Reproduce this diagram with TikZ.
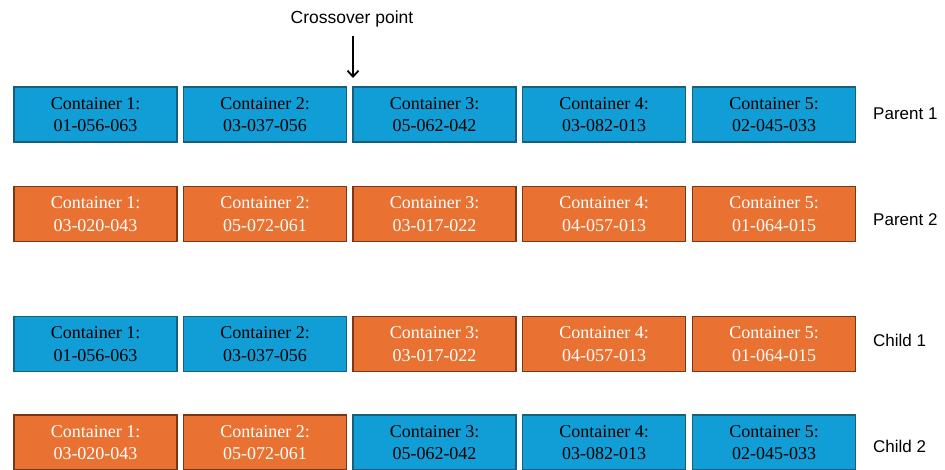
\documentclass[tikz,border=0pt]{standalone}
\usepackage{fontspec}
\setmainfont{Liberation Serif}
\setsansfont{Liberation Sans}
\usetikzlibrary{arrows.meta}
\definecolor{boxblue}{HTML}{119ED6}
\definecolor{lineblue}{HTML}{17607C}
\definecolor{boxorange}{HTML}{E97132}
\definecolor{lineorange}{HTML}{7A3716}
\tikzset{
	gene/.style={rectangle, minimum width=163pt, minimum height=55pt, inner sep=0pt, align=center, line width=1.2pt, font=\fontsize{18}{22.5}\selectfont},
	bluegene/.style={gene, draw=lineblue, fill=boxblue, text=black},
	orangegene/.style={gene, draw=lineorange, fill=boxorange, text=white},
	rowlabel/.style={anchor=west, inner sep=0pt, font=\sffamily\fontsize{17}{20}\selectfont}
}
\begin{document}
\begin{tikzpicture}[x=1pt,y=-1pt,>={Straight Barb[length=6pt,width=11pt]}]
				\useasboundingbox (0,0) rectangle (945,469);
				\node[rowlabel,anchor=center,font=\sffamily\fontsize{17.5}{20}\selectfont] (cross) at (352,19) {Crossover point};
				\coordinate (cut) at (353,78);
				\draw[->, line width=1.8pt, shorten <=9pt] (cross.south -| cut) -- (cut);
				% parent 1
				\node[bluegene] (pa1) at (95.5,114.5) {Container 1:\\01-056-063};
				\node[bluegene] (pa2) at (265,114.5) {Container 2:\\03-037-056};
				\node[bluegene] (pa3) at (434.5,114.5) {Container 3:\\05-062-042};
				\node[bluegene] (pa4) at (604,114.5) {Container 4:\\03-082-013};
				\node[bluegene] (pa5) at (774,114.5) {Container 5:\\02-045-033};
				\node[rowlabel] (pa) at (873,114) {Parent 1};
				% parent 2
				\node[orangegene] (pb1) at (95.5,214) {Container 1:\\03-020-043};
				\node[orangegene] (pb2) at (265,214) {Container 2:\\05-072-061};
				\node[orangegene] (pb3) at (434.5,214) {Container 3:\\03-017-022};
				\node[orangegene] (pb4) at (604,214) {Container 4:\\04-057-013};
				\node[orangegene] (pb5) at (774,214) {Container 5:\\01-064-015};
				\node[rowlabel] (pb) at (873,220) {Parent 2};
				% child 1
				\node[bluegene] (ca1) at (95.5,344) {Container 1:\\01-056-063};
				\node[bluegene] (ca2) at (265,344) {Container 2:\\03-037-056};
				\node[orangegene] (ca3) at (434.5,344) {Container 3:\\03-017-022};
				\node[orangegene] (ca4) at (604,344) {Container 4:\\04-057-013};
				\node[orangegene] (ca5) at (774,344) {Container 5:\\01-064-015};
				\node[rowlabel] (ca) at (873,340) {Child 1};
				% child 2
				\node[orangegene] (cb1) at (95.5,442.5) {Container 1:\\03-020-043};
				\node[orangegene] (cb2) at (265,442.5) {Container 2:\\05-072-061};
				\node[bluegene] (cb3) at (434.5,442.5) {Container 3:\\05-062-042};
				\node[bluegene] (cb4) at (604,442.5) {Container 4:\\03-082-013};
				\node[bluegene] (cb5) at (774,442.5) {Container 5:\\02-045-033};
				\node[rowlabel] (cb) at (873,446) {Child 2};
			\end{tikzpicture}
\end{document}
